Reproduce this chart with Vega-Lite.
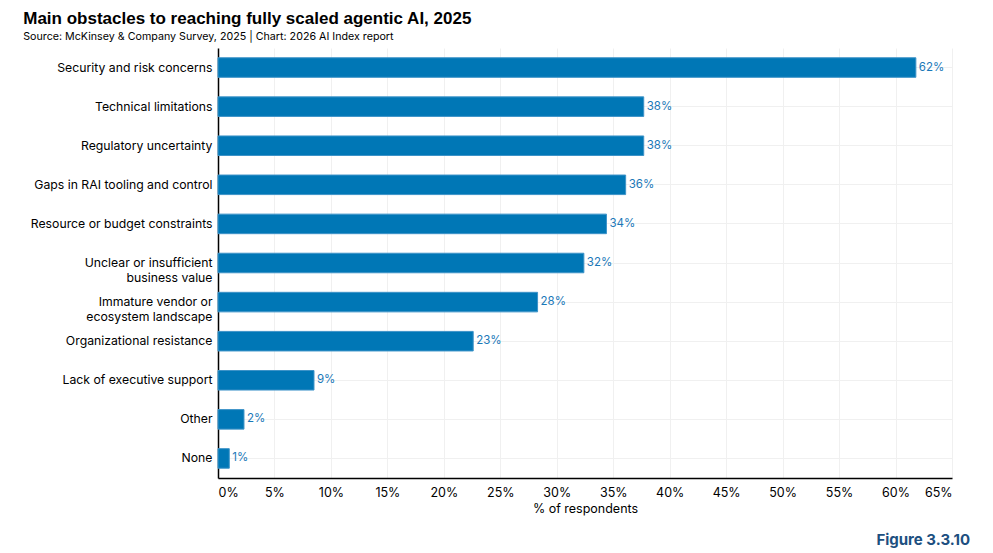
{
  "$schema": "https://vega.github.io/schema/vega-lite/v6.json",
  "background": "white",
  "padding": {"left": 23, "top": 10, "right": 10, "bottom": 5},
  "config": {
    "font": "Inter",
    "view": {"stroke": null},
    "concat": {"spacing": 0}
  },
  "title": {
    "text": "Main obstacles to reaching fully scaled agentic AI, 2025",
    "subtitle": "Source: McKinsey & Company Survey, 2025 | Chart: 2026 AI Index report",
    "anchor": "start",
    "frame": "bounds",
    "dx": -7,
    "font": "Liberation Sans",
    "fontSize": 17,
    "fontWeight": "bold",
    "color": "#000000",
    "subtitleFont": "Inter",
    "subtitleFontSize": 10.7,
    "subtitleColor": "#000000",
    "subtitlePadding": 4,
    "offset": 5
  },
  "vconcat": [
    {
      "width": 734,
      "height": 430,
      "title": {
        "text": "Figure 3.3.10",
        "orient": "bottom",
        "anchor": "end",
        "frame": "group",
        "color": "#1d4f80",
        "fontSize": 15,
        "fontWeight": "bold",
        "offset": 18,
        "dx": 18
      },
      "data": {
        "values": [
          {"obstacle": "Security and risk concerns", "share": 0.618},
          {"obstacle": "Technical limitations", "share": 0.377},
          {"obstacle": "Regulatory uncertainty", "share": 0.377},
          {"obstacle": "Gaps in RAI tooling and control", "share": 0.361},
          {"obstacle": "Resource or budget constraints", "share": 0.344},
          {"obstacle": "Unclear or insufficient\nbusiness value", "share": 0.324},
          {"obstacle": "Immature vendor or\necosystem landscape", "share": 0.283},
          {"obstacle": "Organizational resistance", "share": 0.226},
          {"obstacle": "Lack of executive support", "share": 0.085},
          {"obstacle": "Other", "share": 0.023},
          {"obstacle": "None", "share": 0.01}
        ]
      },
      "encoding": {
        "y": {
          "field": "obstacle",
          "type": "nominal",
          "sort": null,
          "scale": {"paddingInner": 0.5, "paddingOuter": 0.25},
          "axis": {
            "title": null,
            "labelExpr": "split(datum.label, '\\n')",
            "labelFontSize": 12.25,
            "labelColor": "#000000",
            "labelPadding": 6,
            "labelLimit": 400,
            "labelLineHeight": 15,
            "ticks": false,
            "domainColor": "#000000",
            "domainWidth": 1.5,
            "grid": true,
            "bandPosition": 0.5,
            "gridColor": "#f0f0f0",
            "gridWidth": 1
          }
        },
        "x": {
          "field": "share",
          "type": "quantitative",
          "scale": {"domain": [0, 0.65], "nice": false},
          "axis": {
            "title": "% of respondents",
            "titleFontSize": 12.5,
            "titleFontWeight": "normal",
            "titleColor": "#000000",
            "titlePadding": 4,
            "values": [0, 0.05, 0.1, 0.15, 0.2, 0.25, 0.3, 0.35, 0.4, 0.45, 0.5, 0.55, 0.6, 0.65],
            "format": ".0%",
            "labelFontSize": 12.5,
            "labelColor": "#000000",
            "labelPadding": 8,
            "ticks": false,
            "domainColor": "#000000",
            "domainWidth": 1.5,
            "grid": true,
            "gridColor": "#f0f0f0",
            "gridWidth": 1
          }
        }
      },
      "layer": [
        {
          "mark": {"type": "bar", "color": "#0077b6", "stroke": "#3d93c8", "strokeWidth": 1}
        },
        {
          "mark": {"type": "text", "align": "left", "baseline": "middle", "dx": 3, "fontSize": 11.5, "color": "#1a78b8"},
          "encoding": {
            "text": {"field": "share", "type": "quantitative", "format": ".0%"}
          }
        }
      ]
    }
  ]
}
